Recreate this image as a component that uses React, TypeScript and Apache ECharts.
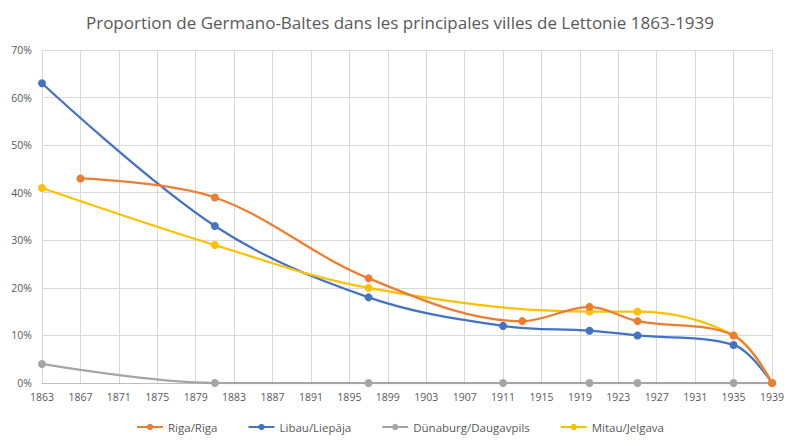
import React, { useEffect, useRef } from "react";
import * as echarts from "echarts";

const BASE_YEAR = 1863;
const END_YEAR = 1939;

const rigaYears = [1867, 1881, 1897, 1913, 1920, 1925, 1935, 1939];
const rigaValues = [43, 39, 22, 13, 16, 13, 10, 0];

const libauYears = [1863, 1881, 1897, 1911, 1920, 1925, 1935, 1939];
const libauValues = [63, 33, 18, 12, 11, 10, 8, 0];

const dunaburgYears = [1863, 1881, 1897, 1911, 1920, 1925, 1935, 1939];
const dunaburgValues = [4, 0, 0, 0, 0, 0, 0, 0];

const mitauYears = [1863, 1881, 1897, 1920, 1925, 1935, 1939];
const mitauValues = [41, 29, 20, 15, 15, 10, 0];

const seriesNames = ["Riga/Rīga", "Libau/Liepāja", "Dünaburg/Daugavpils", "Mitau/Jelgava"];
const seriesColors = ["#ED7D31", "#4472C4", "#A5A5A5", "#FFC000"];

const FONT = "'Open Sans', 'Noto Sans', sans-serif";

function pairs(years: number[], values: number[]) {
  return years.map((y, i) => [y - BASE_YEAR, values[i]]);
}

export default function App() {
  const ref = useRef<HTMLDivElement>(null);
  useEffect(() => {
    if (!ref.current) return;
    const chart = echarts.init(ref.current, null, { renderer: "svg" });
    const datasets = [
      pairs(rigaYears, rigaValues),
      pairs(libauYears, libauValues),
      pairs(dunaburgYears, dunaburgValues),
      pairs(mitauYears, mitauValues),
    ];
    chart.setOption({
      animation: false,
      backgroundColor: "#ffffff",
      title: {
        text: "Proportion de Germano-Baltes dans les principales villes de Lettonie 1863-1939",
        left: "center",
        top: 9,
        textStyle: { fontFamily: FONT, fontSize: 17, fontWeight: "normal", color: "#595959" },
      },
      graphic: [
        {
          type: "rect",
          shape: { x: 0.5, y: 0.5, width: 799, height: 445 },
          style: { fill: "none", stroke: "#d9d9d9", lineWidth: 1 },
          silent: true,
        },
      ],
      legend: {
        bottom: 8,
        left: "center",
        itemGap: 30,
        itemWidth: 26,
        itemHeight: 8,
        data: seriesNames,
        textStyle: { fontFamily: FONT, fontSize: 11.5, color: "#595959" },
      },
      grid: { left: 42, right: 28, top: 50, bottom: 63, containLabel: false },
      xAxis: {
        type: "value",
        min: 0,
        max: END_YEAR - BASE_YEAR,
        interval: 4,
        axisLine: { show: true, lineStyle: { color: "#bfbfbf" } },
        axisTick: { show: false },
        splitLine: { show: true, lineStyle: { color: "#d9d9d9" } },
        axisLabel: {
          color: "#595959",
          fontFamily: FONT,
          fontSize: 10.5,
          margin: 8,
          formatter: (v: number) => String(v + BASE_YEAR),
        },
      },
      yAxis: {
        type: "value",
        min: 0,
        max: 70,
        interval: 10,
        axisLine: { show: false },
        axisTick: { show: false },
        splitLine: { show: true, lineStyle: { color: "#d9d9d9" } },
        axisLabel: {
          color: "#595959",
          fontFamily: FONT,
          fontSize: 10.5,
          margin: 10,
          formatter: (v: number) => v + "%",
        },
      },
      series: seriesNames.map((name, i) => ({
        name,
        type: "line",
        data: datasets[i],
        smooth: 0.35,
        symbol: "circle",
        symbolSize: 8,
        showSymbol: true,
        itemStyle: { color: seriesColors[i] },
        lineStyle: { color: seriesColors[i], width: 2.25 },
        z: i === 2 ? 1 : 2 + (i === 0 ? 1 : 0),
      })),
    });
    return () => chart.dispose();
  }, []);
  return <div ref={ref} style={{ width: 800, height: 446, margin: -8 }} />;
}
